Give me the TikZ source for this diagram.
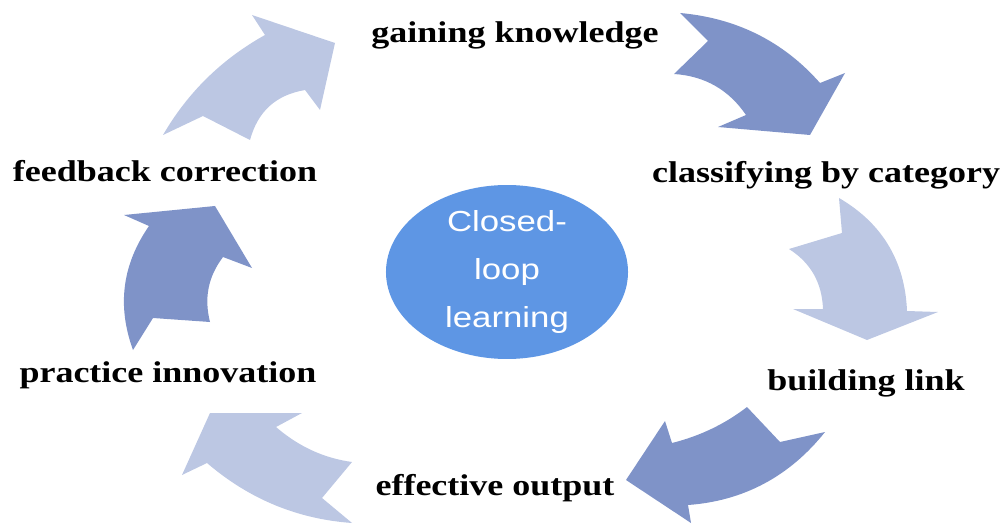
\documentclass[tikz,border=0pt]{standalone}
\usepackage{fontspec}
\setmainfont{Liberation Serif}
\setsansfont{Liberation Sans}
\usetikzlibrary{shapes.geometric}
\definecolor{darkarrow}{HTML}{7F93C8}
\definecolor{lightarrow}{HTML}{BCC7E3}
\definecolor{loopblue}{HTML}{5E96E4}
\newcommand{\widen}{1.2}

\begin{document}
\begin{tikzpicture}[x=1pt,y=-1pt,
    stage/.style={font=\fontsize{30}{36}\selectfont\bfseries, xscale=\widen, anchor=base, inner sep=0pt}]

      \useasboundingbox (0,0) rectangle (1005,524);

          %%  the six curved block arrows, dark and light in turn  %%
      \fill[darkarrow] (680,13) .. controls (736,18) and (783,41) .. (820,83) -- (845,73) -- (810,135)
            -- (718,127) -- (746,115) .. controls (729,90) and (705,76) .. (674,74) -- (708,41) -- cycle;
      \fill[lightarrow] (839,198) .. controls (882,223) and (905,261) .. (907,311) -- (938,312) -- (867,340)
            -- (793,309) -- (823,309) .. controls (822,283) and (811,263) .. (789,249) -- (842,233) -- cycle;
      \fill[darkarrow] (825,432) .. controls (790,476) and (744,501) .. (688,505) -- (691,523) -- (626,480)
            -- (665,421) -- (672,443) .. controls (700,436) and (725,424) .. (747,407) -- (780,442) -- cycle;
      \fill[lightarrow] (352,523) .. controls (297,519) and (249,499) .. (207,463) -- (182,475) -- (210,413)
            -- (302,413) -- (276,427) .. controls (298,446) and (323,458) .. (352,462) -- (322,498) -- cycle;
      \fill[darkarrow] (133,350) .. controls (117,306) and (122,265) .. (149,226) -- (124,215) -- (215,206)
            -- (252,268) -- (223,257) .. controls (208,277) and (204,298) .. (210,322) -- (153,318) -- cycle;
      \fill[lightarrow] (163,135) .. controls (188,92) and (222,59) .. (265,35) -- (252,15) -- (335,43)
            -- (320,110) -- (305,90) .. controls (276,95) and (258,111) .. (250,140) -- (203,116) -- cycle;

          %%  the centre  %%
      \node (core) at (507,272) [ellipse, fill=loopblue, minimum width=201.7pt, minimum height=152pt,
            inner sep=0pt, xscale=\widen, text=white, align=center,
            font=\sffamily\fontsize{29}{48}\selectfont] {Closed-\\loop\\learning};

          %%  the stages  %%
      \node (gain) at (515,43) [stage] {gaining knowledge};
      \node (class) at (826,183) [stage] {classifying by category};
      \node (build) at (866,390) [stage] {building link};
      \node (effect) at (495,495) [stage] {effective output};
      \node (practice) at (168,382) [stage] {practice innovation};
      \node (feed) at (165,182) [stage] {feedback correction};

        \end{tikzpicture}
\end{document}
